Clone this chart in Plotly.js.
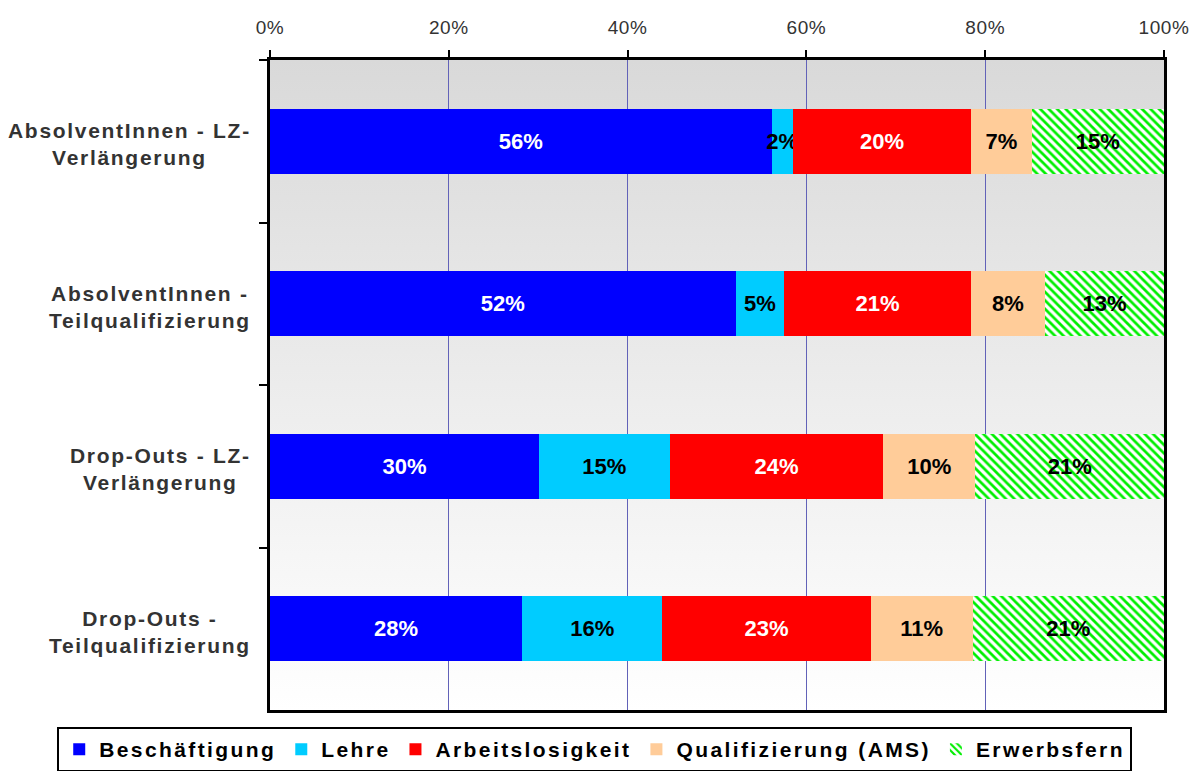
<!DOCTYPE html>
<html>
<head>
<meta charset="utf-8">
<script src="https://cdn.plot.ly/plotly-3.0.1.min.js"></script>
<style>
html,body{margin:0;padding:0;background:#fff;}
#chart{width:1193px;height:771px;}
.annotation-text{letter-spacing:1.7px;}
.legendtext{letter-spacing:2.4px;}
.xtick text{letter-spacing:0.6px;}
</style>
</head>
<body>
<div id="chart"></div>
<script>
const categories = [
  "AbsolventInnen - LZ-Verlängerung",
  "AbsolventInnen - Teilqualifizierung",
  "Drop-Outs - LZ-Verlängerung",
  "Drop-Outs - Teilqualifizierung"
];
const categoryLabels = [
  "AbsolventInnen - LZ-<br>Verlängerung",
  "AbsolventInnen -<br>Teilqualifizierung",
  "Drop-Outs - LZ-<br>Verlängerung",
  "Drop-Outs -<br>Teilqualifizierung"
];
const seriesNames = ["Beschäftigung", "Lehre", "Arbeitslosigkeit", "Qualifizierung (AMS)", "Erwerbsfern"];
const beschaeftigung = [56.1, 52.1, 30.1, 28.2];
const lehre = [2.4, 5.4, 14.6, 15.7];
const arbeitslosigkeit = [19.9, 20.9, 23.9, 23.3];
const qualifizierung = [6.8, 8.3, 10.3, 11.4];
const erwerbsfern = [14.8, 13.3, 21.1, 21.4];
const tickValues = [0, 20, 40, 60, 80, 100];
const tickLabels = ["0%", "20%", "40%", "60%", "80%", "100%"];

const seriesValues = [beschaeftigung, lehre, arbeitslosigkeit, qualifizierung, erwerbsfern];
const colors = ["#0000ff", "#00ccff", "#ff0000", "#ffcc99", "#ffffff"];
const textColors = ["#ffffff", "#000000", "#ffffff", "#000000", "#000000"];
const FONT = "Liberation Sans, Arial, Helvetica, sans-serif";

const traces = seriesValues.map((vals, i) => {
  const t = {
    type: "bar",
    orientation: "h",
    name: seriesNames[i],
    y: categories,
    x: vals,
    width: 0.4,
    texttemplate: "%{x:.0f}%",
    textposition: "inside",
    insidetextanchor: "middle",
    textangle: 0,
    constraintext: "none",
    textfont: {family: FONT, size: 22, color: textColors[i], weight: "bold"},
    marker: {color: colors[i], line: {width: 0}},
    hoverinfo: "skip"
  };
  if (i === 4) {
    t.marker.pattern = {shape: "\\", fgcolor: "#00ee00", bgcolor: "#ffffff", size: 6, solidity: 0.45};
  }
  return t;
});

const gradSvg = '<svg xmlns="http://www.w3.org/2000/svg" width="100" height="100" preserveAspectRatio="none">' +
  '<defs><linearGradient id="g" x1="0" y1="0" x2="0" y2="1">' +
  '<stop offset="0" stop-color="#d9d9d9"/><stop offset="1" stop-color="#ffffff"/>' +
  '</linearGradient></defs><rect width="100" height="100" fill="url(#g)"/></svg>';

const annotations = categories.map((c, i) => ({
  xref: "paper", yref: "y", x: -0.019, y: c, yshift: -3,
  xanchor: "right", yanchor: "middle", align: "center",
  text: categoryLabels[i], showarrow: false,
  font: {family: FONT, size: 21, color: "#333", weight: "bold"}
}));

const layout = {
  width: 1193, height: 771,
  margin: {l: 270, r: 29, t: 60, b: 61, autoexpand: false},
  paper_bgcolor: "#ffffff",
  plot_bgcolor: "rgba(0,0,0,0)",
  barmode: "stack",
  showlegend: true,
  images: [{
    source: "data:image/svg+xml;charset=utf-8," + encodeURIComponent(gradSvg),
    xref: "paper", yref: "paper", x: 0, y: 1, sizex: 1, sizey: 1,
    xanchor: "left", yanchor: "top", sizing: "stretch", layer: "below"
  }],
  xaxis: {
    side: "top", range: [0, 100],
    tickvals: tickValues, ticktext: tickLabels,
    showgrid: true, gridcolor: "#6262b8", gridwidth: 1,
    zeroline: false,
    showline: true, linecolor: "#000", linewidth: 3, mirror: true,
    ticks: "outside", ticklen: 7, tickwidth: 2, tickcolor: "#000",
    ticklabelstandoff: 8,
    tickfont: {family: FONT, size: 19, color: "#333"},
    fixedrange: true
  },
  yaxis: {
    autorange: "reversed",
    type: "category",
    showticklabels: false,
    ticks: "outside", tickson: "boundaries", ticklen: 8, tickwidth: 2, tickcolor: "#000",
    showgrid: false, zeroline: false,
    showline: true, linecolor: "#000", linewidth: 3, mirror: true,
    fixedrange: true
  },
  annotations: annotations,
  legend: {
    orientation: "h",
    x: -0.238, xanchor: "left",
    y: -0.0262, yanchor: "top",
    bgcolor: "#ffffff",
    bordercolor: "#000", borderwidth: 2,
    font: {family: FONT, size: 21, color: "#000", weight: "bold"},
    traceorder: "normal",
    itemwidth: 30
  }
};

Plotly.newPlot("chart", traces, layout, {displayModeBar: false, staticPlot: true});
</script>
</body>
</html>
